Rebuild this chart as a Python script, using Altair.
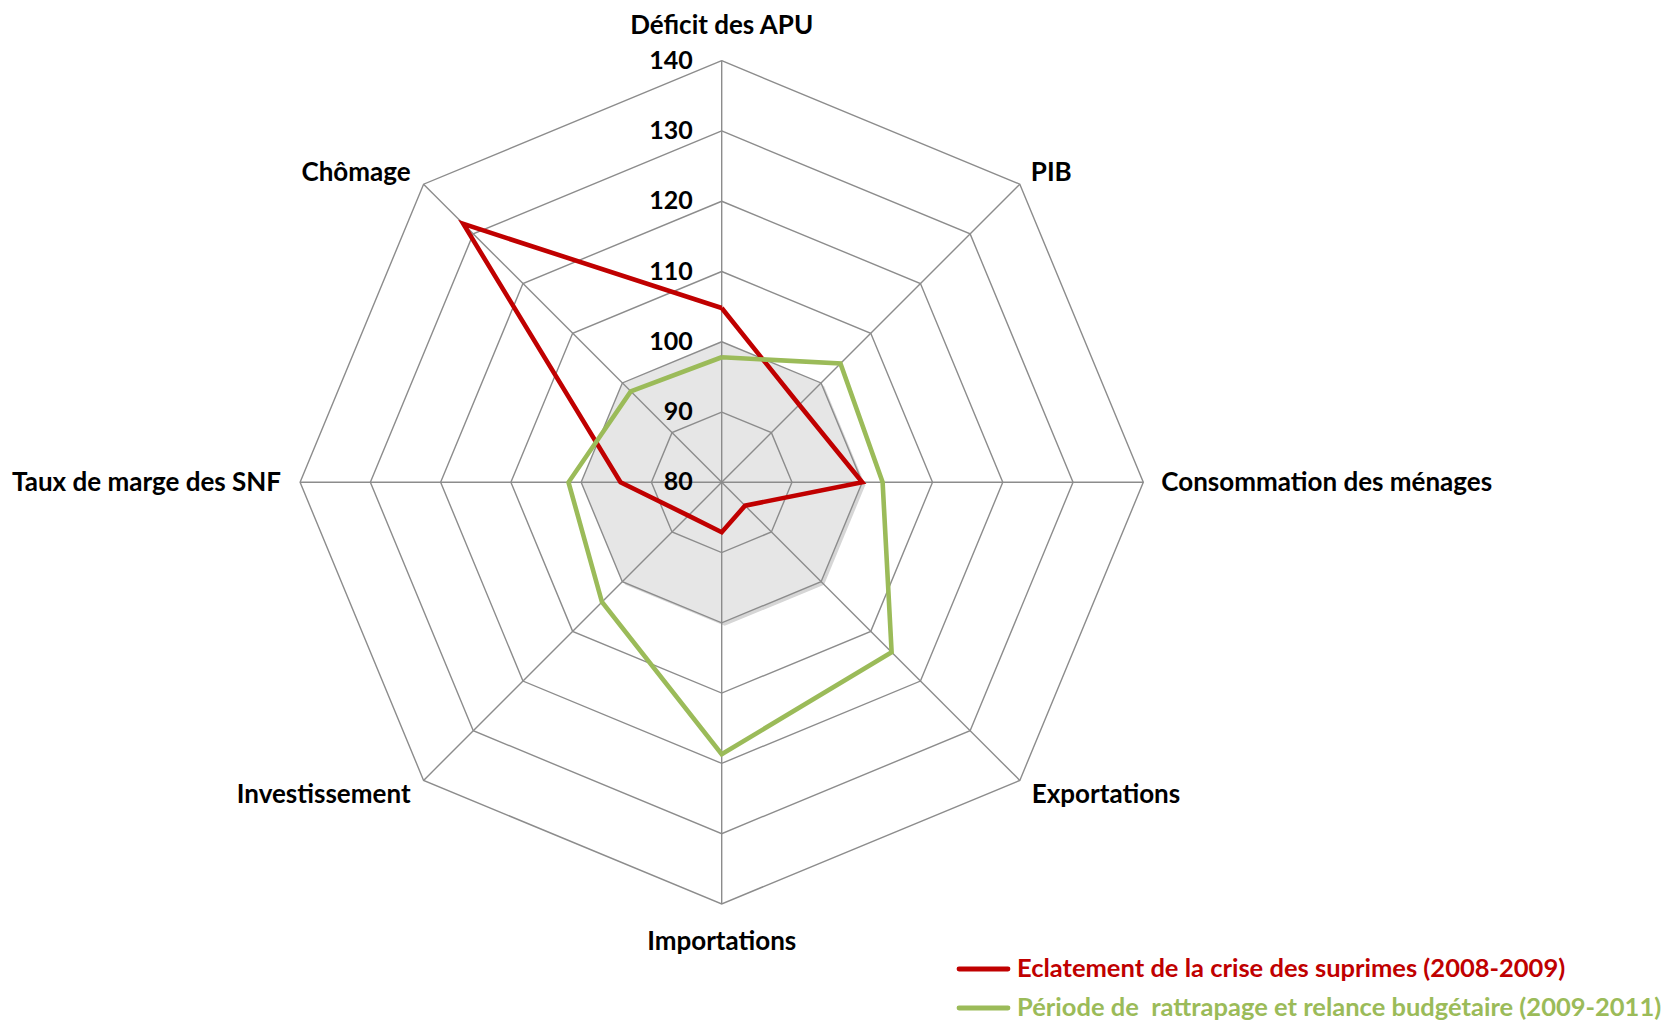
import altair as alt
import pandas as pd

# ---------------- data ----------------
categories = [
    "Déficit des APU",
    "PIB",
    "Consommation des ménages",
    "Exportations",
    "Importations",
    "Investissement",
    "Taux de marge des SNF",
    "Chômage",
]
crise = [104.8, 95.6, 100.0, 84.7, 87.1, 86.7, 94.4, 132.0]
relance = [97.8, 103.9, 102.9, 114.2, 118.7, 104.1, 101.8, 98.3]
reference = [100, 100, 100, 100, 100, 100, 100, 100]
ticks = [80, 90, 100, 110, 120, 130, 140]

serie_names = [
    "Eclatement de la crise des suprimes (2008-2009)",
    "Période de\u00a0 rattrapage et relance budgétaire (2009-2011)",
]
serie_colors = ["#c00000", "#9bbb59"]

FONT = "Lato"
W, H = 1660, 1013
PX = 421.6 / 60.0          # pixels per unit
CX, CY = 713.7, 474.3      # centre in plot pixels
XDOM = [-CX / PX, (W - CX) / PX]
YDOM = [-(H - CY) / PX, CY / PX]
BASE = 80
N = len(categories)

xs = alt.Scale(domain=XDOM, nice=False, zero=False)
ys = alt.Scale(domain=YDOM, nice=False, zero=False)


def closed_rows(name, vals):
    rows = []
    for i in range(N + 1):
        k = i % N
        rows.append({"serie": name, "cat": categories[k], "idx": i,
                     "angle": k * 360.0 / N, "value": vals[k]})
    return rows


def polar(chart):
    return chart.transform_calculate(
        r=f"datum.value - {BASE}"
    ).transform_calculate(
        px="datum.r * sin(datum.angle * PI / 180)",
        py="datum.r * cos(datum.angle * PI / 180)",
    )


# reference (grey) polygon
ref_df = pd.DataFrame(closed_rows("ref", reference))
ref_shadow = polar(alt.Chart(ref_df)).mark_line(
    fill="#d6d6d6", stroke="#d6d6d6", strokeWidth=0, xOffset=3, yOffset=3
).encode(x=alt.X("px:Q", scale=xs, axis=None),
         y=alt.Y("py:Q", scale=ys, axis=None),
         order="idx:Q")
ref_fill = polar(alt.Chart(ref_df)).mark_line(
    fill="#e6e6e6", stroke="#e6e6e6", strokeWidth=0
).encode(x=alt.X("px:Q", scale=xs, axis=None),
         y=alt.Y("py:Q", scale=ys, axis=None),
         order="idx:Q")

# rings
ring_rows = []
for t in ticks[1:]:
    ring_rows += closed_rows(str(t), [t] * N)
ring_df = pd.DataFrame(ring_rows)
rings = polar(alt.Chart(ring_df)).mark_line(
    stroke="#8c8c8c", strokeWidth=1.4
).encode(x=alt.X("px:Q", scale=xs, axis=None),
         y=alt.Y("py:Q", scale=ys, axis=None),
         detail="serie:N", order="idx:Q")

# spokes
spoke_df = pd.DataFrame({"cat": categories,
                         "angle": [k * 360.0 / N for k in range(N)],
                         "value": [ticks[-1]] * N})
spokes = polar(alt.Chart(spoke_df)).transform_calculate(
    zero="0"
).mark_rule(stroke="#8c8c8c", strokeWidth=1.4).encode(
    x=alt.X("zero:Q", scale=xs, axis=None),
    y=alt.Y("zero:Q", scale=ys, axis=None),
    x2="px:Q", y2="py:Q")

# series
ser_df = pd.DataFrame(closed_rows(serie_names[0], crise) + closed_rows(serie_names[1], relance))
series = polar(alt.Chart(ser_df)).mark_line(strokeWidth=4.6, strokeJoin="miter").encode(
    x=alt.X("px:Q", scale=xs, axis=None),
    y=alt.Y("py:Q", scale=ys, axis=None),
    color=alt.Color("serie:N", scale=alt.Scale(domain=serie_names, range=serie_colors), legend=None),
    detail="serie:N", order="idx:Q")

# tick labels
tick_df = pd.DataFrame({"value": ticks})
tick_labels = alt.Chart(tick_df).transform_calculate(
    px="0", py=f"datum.value - {BASE}", lab="format(datum.value, 'd')"
).mark_text(align="right", baseline="middle", dx=-29, font=FONT, fontWeight="bold",
            fontSize=25, color="#000000").encode(
    x=alt.X("px:Q", scale=xs, axis=None),
    y=alt.Y("py:Q", scale=ys, axis=None),
    text="lab:N")

# category labels (style per position around the web)
label_style = {
    "Déficit des APU": ("center", 0, -35),
    "PIB": ("left", 11, -11),
    "Consommation des ménages": ("left", 18, 1),
    "Exportations": ("left", 12, 15),
    "Importations": ("center", 0, 38),
    "Investissement": ("right", -13, 15),
    "Taux de marge des SNF": ("right", -19, 1),
    "Chômage": ("right", -13, -11),
}
cat_layers = []
for c in categories:
    al, dx, dy = label_style[c]
    cat_layers.append(
        polar(alt.Chart(spoke_df)).transform_filter(
            alt.datum.cat == c
        ).mark_text(align=al, baseline="middle", dx=dx, dy=dy, font=FONT,
                    fontWeight="bold", fontSize=26, color="#000000").encode(
            x=alt.X("px:Q", scale=xs, axis=None),
            y=alt.Y("py:Q", scale=ys, axis=None),
            text="cat:N")
    )

# legend (drawn manually)
leg_df = pd.DataFrame({"serie": serie_names, "k": [0, 1]})
leg_lines = []
leg_texts = []
for k, (nm, col) in enumerate(zip(serie_names, serie_colors)):
    yy = 961 + k * 39
    leg_lines.append(
        alt.Chart(leg_df).transform_filter(alt.datum.k == k).mark_rule(
            stroke=col, strokeWidth=4.8, strokeCap="round"
        ).encode(x=alt.value(951), x2=alt.value(1000), y=alt.value(yy))
    )
    leg_texts.append(
        alt.Chart(leg_df).transform_filter(alt.datum.k == k).mark_text(
            align="left", baseline="middle", font=FONT, fontWeight="bold",
            fontSize=25.5, color=col
        ).encode(x=alt.value(1009), y=alt.value(yy), text="serie:N")
    )

chart = alt.layer(
    ref_shadow, ref_fill, rings, spokes, series, tick_labels,
    *cat_layers, *leg_lines, *leg_texts
).properties(
    width=W, height=H, padding=0, autosize=alt.AutoSizeParams(type="none")
).configure_view(stroke=None)

chart.save("out.html", embed_options={"renderer": "svg", "actions": False})
